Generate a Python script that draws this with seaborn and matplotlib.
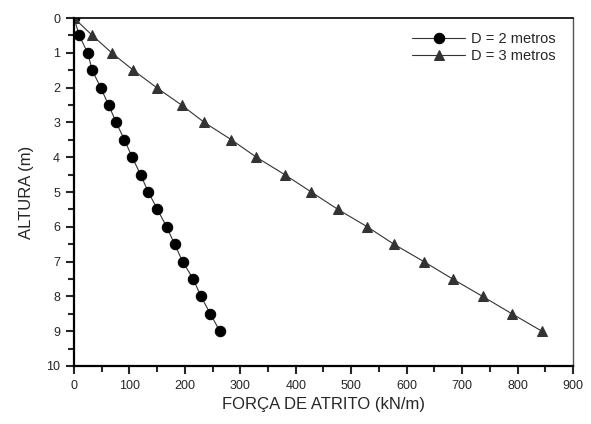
import matplotlib
matplotlib.use("Agg")
import matplotlib.pyplot as plt
import seaborn as sns
import pandas as pd
from matplotlib.ticker import MultipleLocator

altura = [0, 0.5, 1, 1.5, 2, 2.5, 3, 3.5, 4, 4.5, 5, 5.5, 6, 6.5, 7, 7.5, 8, 8.5, 9]
forca_d2 = [0, 9.5, 24.5, 33, 48, 62.5, 76, 91, 105, 120, 134, 150.5, 167, 181.5, 196, 215, 229, 246, 263]
forca_d3 = [0, 33, 68, 107, 149, 194, 235, 284, 329, 380, 428, 476, 529, 577, 631, 683, 737, 790, 844]
labels = ["D = 2 metros", "D = 3 metros"]

sns.set_style("white")
plt.rcParams['font.family'] = ['Liberation Sans', 'DejaVu Sans']

df2 = pd.DataFrame({"forca": forca_d2, "altura": altura})
df3 = pd.DataFrame({"forca": forca_d3, "altura": altura})

fig = plt.figure(figsize=(5.91, 4.24), dpi=100)
ax = fig.add_axes([0.1252, 0.1368, 0.8443, 0.8207])

sns.lineplot(data=df2, x="forca", y="altura", ax=ax, sort=False, color="#333333",
             linewidth=0.8, marker="o", markersize=7.5, markerfacecolor="black",
             markeredgecolor="black", label=labels[0])
sns.lineplot(data=df3, x="forca", y="altura", ax=ax, sort=False, color="#333333",
             linewidth=0.8, marker="^", markersize=7, markerfacecolor="#333333",
             markeredgecolor="#333333", label=labels[1])

ax.set_xlim(0, 900)
ax.set_ylim(10, 0)
ax.xaxis.set_major_locator(MultipleLocator(100))
ax.xaxis.set_minor_locator(MultipleLocator(50))
ax.yaxis.set_major_locator(MultipleLocator(1))
ax.yaxis.set_minor_locator(MultipleLocator(0.5))
ax.tick_params(which="major", direction="out", length=6, width=1.5, labelsize=9,
               bottom=True, left=True, top=False, right=False, pad=4)
ax.tick_params(which="minor", direction="out", length=4, width=1.5,
               bottom=True, left=True, top=False, right=False)

for s in ["bottom", "left"]:
    ax.spines[s].set_linewidth(1.6)
    ax.spines[s].set_color("black")
ax.spines["top"].set_linewidth(1.2)
ax.spines["top"].set_color("black")
ax.spines["right"].set_linewidth(1.0)
ax.spines["right"].set_color("#555555")

ax.set_xlabel("FORÇA DE ATRITO (kN/m)", fontsize=12, labelpad=4)
ax.set_ylabel("ALTURA (m)", fontsize=12, labelpad=9)

leg = ax.legend(loc="upper right", frameon=False, fontsize=10.5, handlelength=3.6,
                handletextpad=0.4, borderaxespad=0.3, labelspacing=0.25,
                bbox_to_anchor=(0.985, 0.99))

fig.savefig("out.png", dpi=100)
